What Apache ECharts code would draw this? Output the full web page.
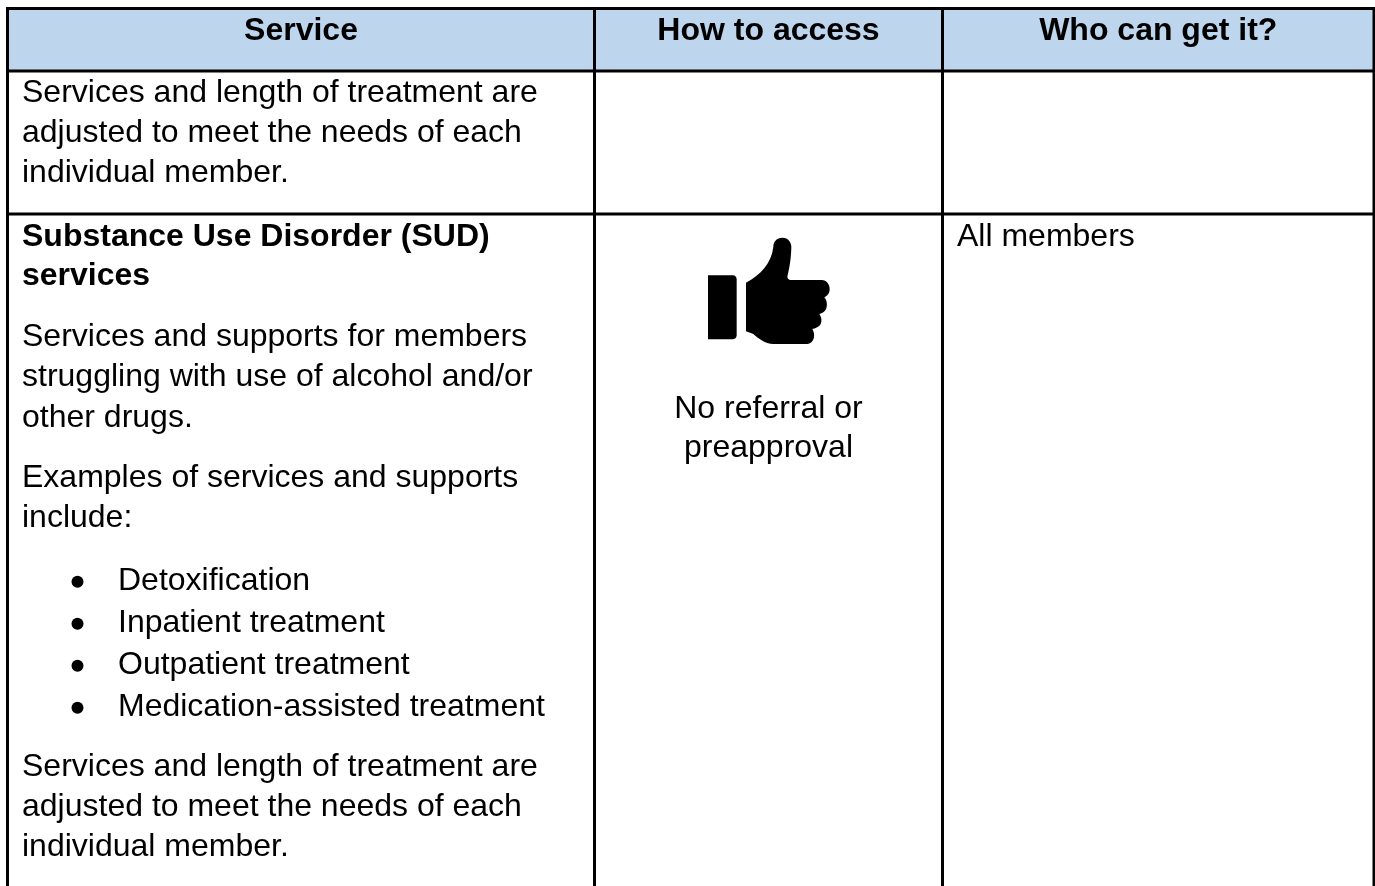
<!DOCTYPE html>
<html>
<head>
<meta charset="utf-8">
<style>html,body{margin:0;padding:0;background:#fff;overflow:hidden}#c{width:1375px;height:886px}</style>
<script src="https://cdn.jsdelivr.net/npm/echarts@6/dist/echarts.min.js"></script>
</head>
<body>
<div id="c"></div>
<script>
const headers = ['Service', 'How to access', 'Who can get it?'];
const carryOverLines = ['Services and length of treatment are', 'adjusted to meet the needs of each', 'individual member.'];
const sudTitleLines = ['Substance Use Disorder (SUD)', 'services'];
const sudIntroLines = ['Services and supports for members', 'struggling with use of alcohol and/or', 'other drugs.'];
const examplesLines = ['Examples of services and supports', 'include:'];
const bulletItems = ['Detoxification', 'Inpatient treatment', 'Outpatient treatment', 'Medication-assisted treatment'];
const closingLines = ['Services and length of treatment are', 'adjusted to meet the needs of each', 'individual member.'];
const accessLines = ['No referral or', 'preapproval'];
const whoText = 'All members';

const FONT = '"Liberation Sans", Arial, sans-serif';
const SIZE = 32;
const colX = [7.5, 594.5, 942.5, 1374];
const rowY = [8.5, 71, 214, 886];
const LW = 3;
const els = [];

els.push({type:'rect', shape:{x:colX[0], y:rowY[0], width:colX[3]-colX[0], height:rowY[1]-rowY[0]}, style:{fill:'#BDD6EE'}});

function txt(s, x, y, opt){
  opt = opt || {};
  els.push({type:'text', x:x, y:y, style:{text:s, fill:'#000', font:(opt.bold?'bold ':'')+SIZE+'px '+FONT,
    textAlign:opt.align||'left', textVerticalAlign:'middle'}});
}
function block(lines, y, lh, opt){ lines.forEach((s,i)=>txt(s, 22, y+i*lh, opt)); }

headers.forEach((h,i)=>txt(h, (colX[i]+colX[i+1])/2, 31, {bold:true, align:'center'}));
block(carryOverLines, 92.7, 40.2);
block(sudTitleLines, 237, 39, {bold:true});
block(sudIntroLines, 337, 40.4);
block(examplesLines, 477.7, 40.6);
bulletItems.forEach((s,i)=>{
  const y = 581 + i*42;
  els.push({type:'circle', shape:{cx:77.5, cy:y+0.8, r:6}, style:{fill:'#000'}});
  txt(s, 118, y);
});
block(closingLines, 767, 40);
accessLines.forEach((s,i)=>txt(s, 768.5, 409.3+i*39, {align:'center'}));
txt(whoText, 957, 237);

const ls = {stroke:'#000', lineWidth:LW};
colX.forEach(x=>els.push({type:'line', shape:{x1:x, y1:rowY[0]-1.5, x2:x, y2:rowY[3]}, style:ls}));
rowY.slice(0,3).forEach(y=>els.push({type:'line', shape:{x1:colX[0]-1.5, y1:y, x2:colX[3]+1.5, y2:y}, style:ls}));

const thumbCuff = 'M144 196 L218 196 C226 196 230 202 230 208 L230 376 C230 384 224 388 218 388 L144 388 Z';
const thumbHand = 'M258 218 C300 195 335 160 340 110 C340 95 350 83 367 83 C385 83 394 97 394 112 C393 150 388 175 382 200 C382 207 388 210 395 210 L485 210 C500 210 510 225 509 238 C509 250 502 258 493 262 C500 270 502 280 500 290 C498 302 490 308 478 312 C485 322 486 332 482 342 C478 350 470 354 457 357 C463 368 465 380 458 392 C452 400 445 402 435 402 L340 402 C315 402 295 385 280 372 L258 364 Z';

const chart = echarts.init(document.getElementById('c'), null, {renderer:'canvas'});
chart.setOption({
  animation:false, backgroundColor:'#fff',
  graphic:{elements:els},
  series:[{
    type:'custom', coordinateSystem:'none', silent:true, data:[[0]],
    renderItem:function(){
      return {type:'group', children:[thumbCuff, thumbHand].map(d=>({
        type:'path', x:660, y:210, scaleX:1/3, scaleY:1/3, shape:{pathData:d}, style:{fill:'#000'}
      }))};
    }
  }]
});
</script>
</body>
</html>
